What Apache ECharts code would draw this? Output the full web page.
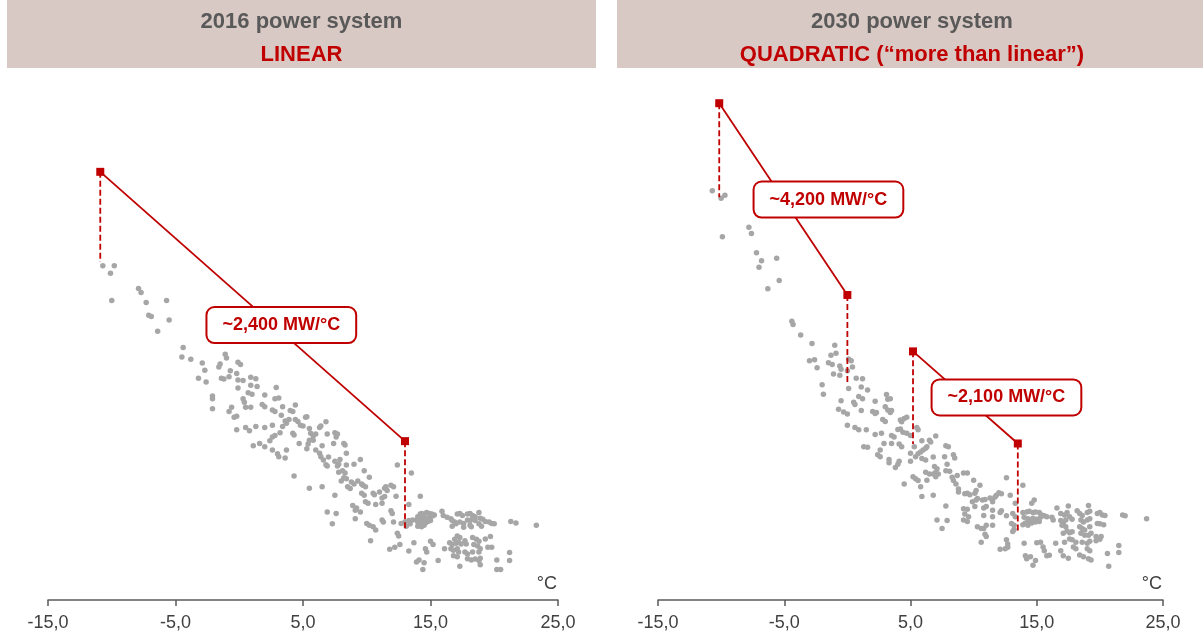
<!DOCTYPE html>
<html>
<head>
<meta charset="utf-8">
<script src="https://cdn.jsdelivr.net/npm/echarts@6/dist/echarts.min.js"></script>
<style>
  html, body { margin: 0; padding: 0; background: #ffffff; }
  #chart { width: 1203px; height: 636px; }
</style>
</head>
<body>
<div id="chart"></div>
<script>
// Daily mean temperature (°C) and electricity demand (GW) – 2016 power system
const temp2016 = [
  -10.7, -9.8, -10.1, -7.9, -7.7, -10.0, -7.3, -5.7, -7.1, -6.9, -5.5, -6.4, -4.4, -4.5, -3.8, -2.9, -2.7, -3.2, -2.6, -1.1,
  -1.0, -1.6, -1.5, -0.1, 0.1, -0.7, -1.4, -1.2, -0.8, -0.2, -0.1, 0.3, 0.9, 1.3, -0.1, 0.9, 1.4, 0.7, 1.0, -2.1,
  -2.1, 0.3, 0.4, 2.0, 2.9, 2.8, 3.1, 1.8, 2.0, 0.5, 0.9, -2.1, -0.8, -0.6, -0.4, -0.2, 2.6, 2.8, 3.4, 3.3,
  3.6, 3.7, 3.4, -0.2, 0.5, 0.8, 1.3, 2.0, 2.6, 3.2, 2.6, 2.8, 2.4, 1.1, 1.6, 2.0, 2.6, 3.0, 3.1, 3.7,
  3.6, 3.9, 4.4, 4.0, 4.2, 4.4, 4.6, 4.8, 5.0, 5.2, 5.3, 4.3, 4.2, 4.7, 5.5, 5.6, 5.8, 6.0, 6.3, 6.4,
  6.8, 6.9, 5.5, 5.4, 5.3, 5.8, 6.0, 6.5, 7.5, 7.7, 7.6, 7.4, 8.2, 8.3, 6.3, 6.4, 6.6, 6.8, 6.9, 7.0,
  7.5, 7.7, 7.8, 8.4, 7.9, 8.4, 9.0, 9.5, 7.8, 8.1, 8.3, 8.2, 8.4, 8.0, 8.5, 8.7, 8.8, 9.0, 9.3, 9.8,
  9.6, 9.7, 9.9, 10.2, 10.5, 10.6, 9.6, 9.8, 9.9, 10.1, 8.9, 9.1, 9.2, 9.1, 9.5, 10.7, 11.2, 11.4, 11.4, 11.5,
  11.0, 11.6, 11.9, 12.1, 12.3, 11.2, 11.9, 12.0, 12.4, 13.5, 13.3, 10.0, 10.2, 10.5, 10.7, 11.2, 11.3, 10.3, 6.9, 7.6,
  7.3, 6.5, 5.5, 4.3, 7.5, 12.1, 12.4, 12.5, 12.7, 13.0, 11.8, 12.2, 12.6, 13.3, 13.7, 13.9, 14.0, 14.2, 14.2, 14.3,
  14.5, 14.7, 14.9, 15.1, 15.3, 14.1, 14.3, 14.5, 14.7, 15.0, 15.2, 14.0, 14.2, 14.4, 14.6, 14.8, 15.0, 14.0, 14.3, 14.5,
  15.9, 16.0, 16.3, 16.6, 16.7, 16.9, 17.1, 17.3, 17.5, 17.3, 17.6, 17.9, 18.1, 18.3, 18.5, 17.9, 18.1, 18.3, 18.5, 18.8,
  18.9, 19.1, 19.3, 19.6, 19.8, 20.0, 18.1, 18.2, 16.7, 17.0, 17.6, 18.8, 19.0, 21.3, 21.7, 23.3, 17.1, 17.3, 16.9, 16.5,
  16.7, 17.0, 17.2, 17.4, 16.6, 16.8, 17.1, 17.7, 17.8, 18.3, 18.6, 18.8, 18.4, 18.7, 19.3, 19.7, 18.9, 18.8, 19.5, 19.8,
  17.7, 17.9, 18.3, 17.1, 16.8, 17.9, 18.2, 18.5, 18.8, 18.9, 18.9, 17.3, 17.2, 15.0, 15.2, 14.6, 14.7, 16.1, 15.6, 13.9,
  14.1, 14.5, 14.4, 20.2, 20.2, 20.5, 21.2, 21.2, 13.3, 13.4, 13.6, 13.1
];
const load2016 = [
  101.1, 101.1, 99.5, 96.3, 95.4, 93.7, 93.3, 93.7, 90.6, 90.3, 89.6, 87.2, 83.7, 81.7, 81.2, 80.4, 78.9, 77.2, 76.4, 82.3,
  81.5, 79.6, 80.2, 80.6, 80.1, 78.8, 77.2, 77.0, 77.5, 78.2, 76.8, 76.7, 77.4, 77.1, 75.1, 75.7, 75.4, 74.1, 73.8, 73.4,
  72.8, 72.8, 72.1, 73.6, 75.2, 72.8, 73.0, 71.6, 71.1, 71.0, 71.0, 70.7, 70.1, 71.0, 68.9, 69.1, 70.4, 70.1, 71.1, 69.3,
  68.1, 67.6, 66.9, 66.2, 66.7, 66.0, 66.9, 66.7, 67.2, 65.6, 64.7, 65.0, 63.9, 62.8, 63.3, 62.6, 61.9, 61.1, 60.5, 61.9,
  60.2, 68.4, 71.5, 70.3, 70.1, 68.4, 68.0, 67.2, 67.0, 68.9, 69.0, 65.1, 65.5, 63.3, 66.5, 65.5, 64.9, 65.3, 66.7, 67.0,
  67.9, 65.3, 64.0, 63.2, 62.2, 64.0, 61.9, 62.8, 65.6, 65.3, 64.7, 63.3, 63.3, 63.0, 61.2, 60.5, 59.8, 58.8, 58.5, 60.4,
  59.5, 58.5, 58.9, 61.2, 59.9, 58.7, 58.9, 59.9, 57.2, 57.5, 57.0, 56.0, 55.8, 55.3, 54.1, 53.7, 55.1, 54.7, 55.3, 57.5,
  54.7, 54.4, 54.1, 56.1, 52.7, 52.4, 52.7, 52.3, 50.9, 50.6, 50.1, 49.1, 49.6, 47.3, 48.7, 50.3, 51.7, 52.0, 53.8, 54.1,
  53.0, 53.3, 54.4, 54.1, 52.1, 50.6, 49.0, 48.4, 58.7, 57.0, 50.3, 46.3, 45.9, 45.6, 44.9, 47.0, 46.6, 42.6, 48.7, 48.4,
  46.2, 54.1, 53.8, 56.4, 52.3, 46.6, 44.2, 43.6, 46.3, 46.6, 40.8, 41.2, 41.8, 40.4, 42.2, 47.0, 47.7, 52.1, 48.3, 48.4,
  48.3, 48.6, 48.4, 48.3, 48.1, 47.4, 47.3, 47.6, 47.4, 47.7, 47.9, 46.6, 46.3, 46.6, 46.4, 46.7, 46.9, 45.7, 45.6, 45.9,
  48.9, 48.0, 47.6, 47.3, 46.9, 46.6, 48.3, 48.4, 48.0, 46.6, 46.3, 48.3, 48.4, 48.0, 47.7, 47.0, 46.9, 47.3, 46.9, 48.6,
  47.4, 47.2, 46.7, 46.6, 46.3, 46.2, 45.9, 45.6, 45.7, 46.2, 45.5, 46.2, 45.7, 46.7, 46.4, 45.9, 43.6, 43.3, 42.9, 42.2,
  41.8, 42.1, 42.3, 41.9, 40.9, 40.6, 40.9, 42.6, 41.9, 43.3, 42.9, 42.5, 41.8, 41.5, 43.0, 43.5, 40.9, 40.2, 41.2, 41.2,
  40.2, 39.8, 40.2, 39.2, 39.4, 38.8, 38.5, 38.7, 38.4, 38.9, 37.5, 37.2, 40.2, 42.5, 41.8, 40.9, 40.2, 40.9, 38.4, 38.1,
  38.5, 37.9, 36.5, 38.5, 36.5, 36.5, 40.1, 38.4, 46.9, 46.2, 47.0, 45.7
];

// Daily mean temperature (°C) and electricity demand (GW) – 2030 power system
const temp2030 = [
  -10.7, -9.7, -10.0, -7.8, -7.6, -9.9, -7.2, -6.8, -7.0, -5.6, -5.4, -6.3, -4.4, -4.3, -3.7, -2.8, -1.0, -3.0, -2.6, -2.4,
  -1.3, -0.9, -1.5, -1.2, -0.6, -0.5, 0.1, 0.3, 0.4, 0.0, -1.1, -0.6, 0.7, -2.0, 0.1, -1.9, -0.5, 0.5, 0.6, -0.7,
  -0.3, 0.0, 1.2, 1.1, 1.6, 0.9, 1.2, 1.1, 3.1, 3.2, 3.4, 2.2, 2.0, 2.2, 2.3, 3.0, 3.2, 3.4, 3.5, 2.8,
  3.0, 4.2, 4.3, 4.5, 4.7, 0.0, 0.6, 0.9, 1.5, 2.2, 2.7, 2.9, 3.5, 3.7, 4.0, 4.2, 4.4, 4.7, 5.0, 5.5,
  5.6, 3.5, 4.1, 4.3, 1.3, 1.6, 2.6, 2.4, 2.6, 3.3, 3.3, 4.0, 4.1, 3.8, 4.5, 5.0, 5.0, 5.3, 5.4, 5.6,
  5.8, 6.0, 6.2, 6.5, 6.6, 7.0, 5.9, 6.3, 6.2, 5.9, 6.8, 6.9, 7.1, 7.0, 7.2, 6.8, 7.0, 6.2, 6.5, 6.3,
  5.2, 5.4, 5.6, 5.8, 6.8, 5.9, 7.8, 8.0, 7.7, 8.4, 8.5, 7.9, 7.8, 8.1, 8.3, 8.4, 8.6, 8.7, 9.2, 9.5,
  8.8, 8.8, 9.3, 9.5, 9.7, 10.0, 10.2, 10.1, 10.5, 7.8, 7.1, 7.9, 7.5, 9.2, 9.5, 9.3, 9.6, 9.2, 9.5, 9.9,
  10.1, 10.2, 10.3, 10.7, 10.9, 10.8, 11.0, 11.3, 11.5, 11.7, 11.8, 12.0, 12.2, 11.5, 11.5, 10.8, 10.3, 10.6, 10.8, 11.0,
  10.9, 11.0, 11.5, 11.5, 10.6, 12.1, 12.2, 12.6, 12.9, 13.3, 13.1, 13.3, 12.6, 13.0, 13.2, 13.2, 13.1, 12.6, 12.7, 12.1,
  12.5, 12.7, 13.9, 14.8, 14.6, 16.6, 17.5, 19.1, 13.9, 14.2, 14.4, 14.7, 14.9, 15.2, 15.4, 15.6, 15.8, 16.2, 16.3, 14.0,
  14.3, 14.5, 14.7, 15.0, 15.3, 14.1, 14.4, 14.6, 14.9, 15.2, 13.9, 14.3, 16.9, 17.2, 17.4, 16.9, 17.1, 17.3, 17.6, 17.8,
  18.2, 18.4, 18.6, 19.0, 19.2, 18.5, 18.7, 19.0, 19.2, 19.8, 20.0, 20.2, 20.4, 19.8, 20.0, 20.3, 21.8, 22.0, 23.7, 17.0,
  17.3, 17.4, 17.6, 17.8, 17.1, 18.4, 18.6, 18.8, 19.2, 18.5, 18.8, 19.1, 19.3, 17.6, 17.8, 18.1, 18.6, 19.0, 19.2, 19.7,
  19.7, 20.0, 20.1, 16.5, 17.2, 17.9, 18.1, 16.9, 19.0, 19.2, 18.4, 18.7, 19.1, 19.3, 17.1, 17.5, 15.0, 15.3, 15.5, 15.6,
  14.0, 15.8, 16.0, 14.1, 14.2, 14.5, 14.9, 14.7, 20.6, 20.7, 21.5, 21.5
];
const load2030 = [
  117.1, 116.1, 115.5, 109.3, 108.0, 107.3, 103.9, 102.2, 100.8, 102.7, 98.0, 96.2, 89.3, 88.6, 86.4, 84.6, 84.2, 80.9, 81.1, 79.4,
  82.1, 82.5, 80.5, 80.1, 79.8, 79.1, 81.3, 80.9, 79.6, 78.8, 78.1, 77.8, 77.2, 75.8, 75.0, 73.8, 72.4, 72.1, 71.6, 70.6,
  70.0, 69.6, 77.1, 75.3, 74.7, 73.3, 72.8, 70.3, 73.7, 72.7, 72.8, 72.3, 70.1, 69.7, 69.9, 71.1, 70.4, 69.9, 70.3, 68.4,
  68.0, 68.3, 67.9, 68.6, 68.9, 67.2, 66.7, 66.2, 66.2, 65.2, 65.5, 63.3, 65.0, 64.7, 66.3, 66.4, 65.7, 65.5, 65.0, 66.7,
  66.2, 63.3, 63.2, 62.6, 62.6, 62.5, 61.9, 60.9, 60.5, 59.9, 59.2, 58.9, 59.5, 58.2, 54.7, 61.2, 59.5, 62.6, 60.5, 61.1,
  61.5, 61.9, 62.3, 64.0, 63.6, 64.9, 63.9, 62.6, 59.8, 60.1, 60.4, 58.4, 57.9, 57.2, 56.8, 56.8, 56.2, 57.2, 56.8, 55.5,
  56.2, 55.8, 55.4, 54.1, 52.3, 52.0, 62.8, 62.6, 60.5, 60.9, 60.2, 58.9, 57.5, 57.4, 56.1, 55.4, 54.7, 56.5, 57.0, 57.0,
  53.6, 53.0, 52.6, 52.7, 52.4, 55.5, 53.3, 52.7, 54.4, 50.0, 47.0, 46.9, 45.2, 49.4, 49.3, 48.3, 47.7, 47.0, 46.7, 50.9,
  49.9, 51.3, 51.6, 51.3, 51.4, 49.6, 49.9, 51.7, 51.4, 51.9, 52.3, 52.8, 52.6, 50.9, 49.1, 48.0, 45.6, 45.2, 45.2, 45.9,
  44.0, 43.5, 45.9, 47.7, 42.3, 48.6, 49.0, 56.0, 52.3, 50.6, 48.4, 47.7, 47.9, 46.3, 45.9, 45.0, 44.6, 42.8, 41.9, 40.8,
  40.9, 41.2, 54.4, 51.3, 50.6, 49.6, 50.0, 50.1, 48.6, 48.7, 48.9, 48.6, 48.7, 48.6, 48.1, 47.9, 47.7, 47.6, 47.0, 47.6,
  47.3, 47.0, 47.4, 47.2, 47.6, 46.4, 46.6, 46.4, 46.6, 46.7, 46.0, 45.9, 48.4, 48.1, 48.6, 46.9, 46.4, 47.0, 47.7, 47.2,
  49.0, 48.4, 48.0, 48.6, 48.9, 47.0, 46.6, 47.0, 47.3, 48.4, 48.6, 48.1, 48.0, 46.3, 46.2, 46.0, 48.1, 47.9, 47.3, 45.9,
  45.6, 44.7, 44.3, 44.5, 44.2, 45.6, 45.2, 44.9, 45.6, 44.2, 43.8, 43.8, 44.2, 43.0, 42.8, 42.3, 42.3, 42.1, 42.5, 43.5,
  42.6, 42.9, 43.5, 42.1, 42.3, 41.3, 40.9, 40.5, 40.9, 40.5, 39.6, 39.2, 38.8, 38.5, 39.4, 38.9, 42.2, 42.3, 41.3, 40.5,
  42.1, 39.4, 39.5, 39.4, 38.8, 39.2, 38.4, 37.4, 39.9, 37.2, 41.6, 40.1
];

// Thermosensitivity segments: end points (°C, GW) and the lower ends of the dashed drop lines
const fit2016Temp = [-10.9, 13.0];
const fit2016Load = [121.1, 63.8];
const fit2016Drop = [101.9, 44.9];
const fit2030aTemp = [-10.15, 0.0];
const fit2030aLoad = [135.7, 94.9];
const fit2030aDrop = [115.7, 76.1];
const fit2030bTemp = [5.2, 13.5];
const fit2030bLoad = [82.9, 63.3];
const fit2030bDrop = [63.2, 44.7];

// Slope call-outs and where they sit (°C, GW)
const slopeText = ['~2,400 MW/°C', '~4,200 MW/°C', '~2,100 MW/°C'];
const slopeTextTemp = [3.3, -1.5, 12.6];
const slopeTextLoad = [88.5, 115.2, 73.1];

const panelTitles = ['2016 power system', '2030 power system'];
const panelSubtitles = ['LINEAR', 'QUADRATIC (\u201cmore than linear\u201d)'];
const xTicks = [-15, -5, 5, 15, 25];

const RED = '#c00000';
const GREY_TEXT = '#595959';
const HEADER_BG = '#d9c9c4';
const FONT = '"Liberation Sans", Arial, Helvetica, sans-serif';

const pairs = (xs, ys) => xs.map((x, k) => [x, ys[k]]);

function xAxisFor(i) {
  return {
    gridIndex: i, type: 'value', min: -15, max: 25,
    axisLine: { lineStyle: { color: GREY_TEXT, width: 1.5 } },
    axisTick: { show: true, length: 6, customValues: xTicks, lineStyle: { color: GREY_TEXT, width: 1.5 } },
    axisLabel: {
      customValues: xTicks, margin: 14, fontSize: 18, color: '#404040', fontFamily: FONT,
      formatter: v => v.toFixed(1).replace('.', ',')
    },
    splitLine: { show: false },
    name: '°C', nameLocation: 'end', nameGap: -1,
    nameTextStyle: { fontSize: 18, color: '#404040', fontFamily: FONT, align: 'right', verticalAlign: 'bottom', padding: [0, 0, 7, 0] }
  };
}
function yAxisFor(i) {
  return { gridIndex: i, type: 'value', min: 30, max: 140, show: false };
}

function cloud(i, temps, loads) {
  return {
    type: 'scatter', xAxisIndex: i, yAxisIndex: i, data: pairs(temps, loads),
    symbolSize: 5.5, itemStyle: { color: '#a6a6a6', opacity: 1 }, z: 2, silent: true
  };
}
function segment(i, temps, loads) {
  return {
    type: 'line', xAxisIndex: i, yAxisIndex: i, data: pairs(temps, loads),
    symbol: 'rect', symbolSize: 8, showSymbol: true,
    lineStyle: { color: RED, width: 1.8 }, itemStyle: { color: RED, opacity: 1 }, z: 4, silent: true
  };
}
function drops(i, temps, loads, ends) {
  return temps.map((t, k) => ({
    type: 'line', xAxisIndex: i, yAxisIndex: i, data: [[t, loads[k]], [t, ends[k]]],
    symbol: 'none', lineStyle: { color: RED, width: 1.8, type: [6, 3] }, z: 3, silent: true
  }));
}
function callout(i, k) {
  return {
    type: 'scatter', xAxisIndex: i, yAxisIndex: i, data: [[slopeTextTemp[k], slopeTextLoad[k]]],
    symbolSize: 1, itemStyle: { color: '#ffffff', opacity: 1 }, z: 10, silent: true,
    label: {
      show: true, position: 'inside', formatter: slopeText[k], opacity: 1,
      color: RED, fontSize: 18, fontWeight: 'bold', fontFamily: FONT,
      backgroundColor: '#ffffff', borderColor: RED, borderWidth: 2, borderRadius: 7,
      padding: [8, 15]
    }
  };
}

function header(x, w, title, subtitle) {
  const cx = x + w / 2;
  return [
    { type: 'rect', shape: { x: x, y: 0, width: w, height: 68 }, style: { fill: HEADER_BG }, z: 0 },
    { type: 'text', x: cx, y: 22, z: 1,
      style: { text: title, fill: GREY_TEXT, font: 'bold 22px ' + FONT, textAlign: 'center', textVerticalAlign: 'middle', align: 'center', verticalAlign: 'middle' } },
    { type: 'text', x: cx, y: 55, z: 1,
      style: { text: subtitle, fill: RED, font: 'bold 22px ' + FONT, textAlign: 'center', textVerticalAlign: 'middle', align: 'center', verticalAlign: 'middle' } }
  ];
}

const chart = echarts.init(document.getElementById('chart'), null, { renderer: 'canvas' });
chart.setOption({
  animation: false,
  backgroundColor: '#ffffff',
  textStyle: { fontFamily: FONT },
  grid: [
    { left: 48, width: 510, top: 83, height: 517 },
    { left: 658, width: 505, top: 83, height: 517 }
  ],
  xAxis: [xAxisFor(0), xAxisFor(1)],
  yAxis: [yAxisFor(0), yAxisFor(1)],
  graphic: [
    ...header(7, 589, panelTitles[0], panelSubtitles[0]),
    ...header(617, 590, panelTitles[1], panelSubtitles[1])
  ],
  series: [
    cloud(0, temp2016, load2016),
    ...drops(0, fit2016Temp, fit2016Load, fit2016Drop),
    segment(0, fit2016Temp, fit2016Load),
    callout(0, 0),
    cloud(1, temp2030, load2030),
    ...drops(1, fit2030aTemp, fit2030aLoad, fit2030aDrop),
    segment(1, fit2030aTemp, fit2030aLoad),
    ...drops(1, fit2030bTemp, fit2030bLoad, fit2030bDrop),
    segment(1, fit2030bTemp, fit2030bLoad),
    callout(1, 1),
    callout(1, 2)
  ]
});
</script>
</body>
</html>
